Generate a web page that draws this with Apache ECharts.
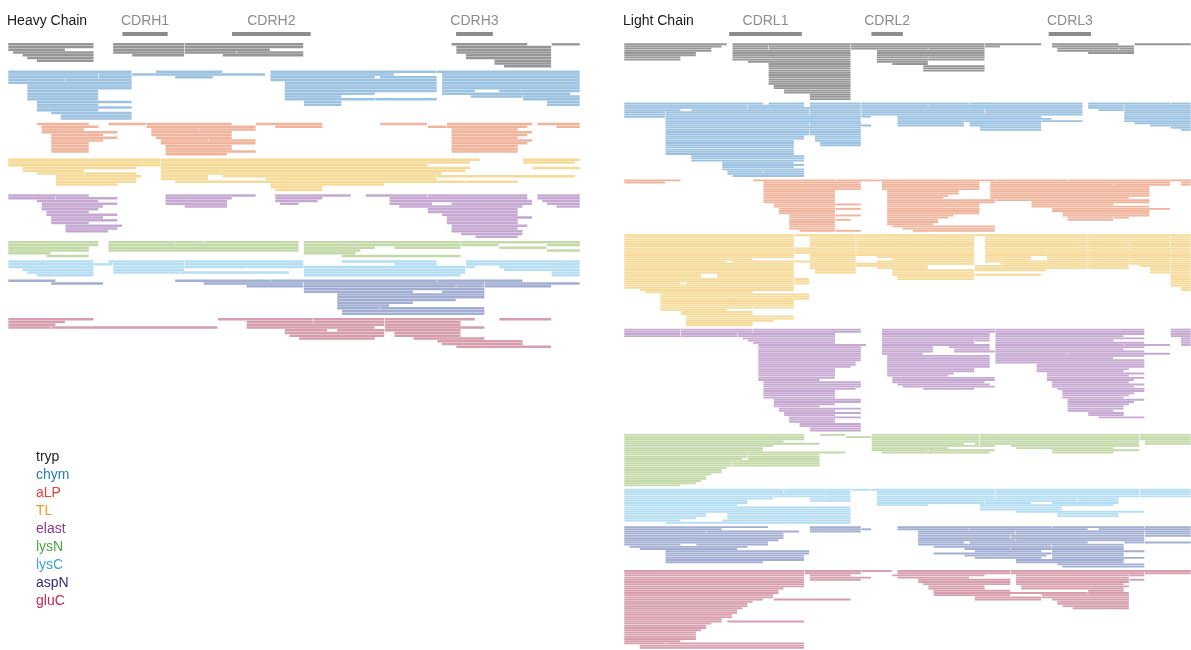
<!DOCTYPE html>
<html>
<head>
<meta charset="utf-8">
<title>Peptide coverage</title>
<script src="https://cdn.jsdelivr.net/npm/echarts/dist/echarts.min.js"></script>
<style>
  html, body { margin: 0; padding: 0; background: #fff; }
  #chart { width: 1191px; height: 650px; }
</style>
</head>
<body>
<div id="chart"></div>
<script>
// enzymes, in drawing order
const enzymes = ['tryp', 'chym', 'aLP', 'TL', 'elast', 'lysN', 'lysC', 'aspN', 'gluC']

// each row = flat list of [start, end] residue pairs
const heavyTryp = [
  [0,18, 22,37, 37,62, 93,109, 114,120],
  [0,18, 22,37, 37,62, 94,114],
  [0,12, 22,37, 37,55, 94,114],
  [1,18, 22,37, 37,48, 48,62, 94,114],
  [3,18, 26,37, 45,62, 96,114],
  [4,18, 96,114],
  [6,18, 102,114],
  [102,114],
  [104,114]
]
const heavyChym = [
  [0,26, 31,45, 55,90, 90,120],
  [0,19, 19,26, 26,54, 55,81, 91,120],
  [0,19, 19,26, 35,43, 55,77, 78,90, 91,120],
  [0,12, 12,26, 55,90, 91,120],
  [0,26, 58,90, 91,120],
  [4,26, 58,90, 91,120],
  [4,26, 58,90, 91,120],
  [4,19, 58,90, 91,98, 103,120],
  [4,19, 58,77, 91,118],
  [4,19, 58,70, 97,108, 108,120],
  [4,19, 58,77, 77,90, 108,120],
  [6,26, 62,70, 113,120],
  [6,19, 62,70, 113,120],
  [6,26],
  [6,19],
  [9,26],
  [11,26],
  [11,26]
]
const heavyAlp = [
  [6,17, 21,29, 29,47, 52,66, 78,88, 92,110, 111,120],
  [7,19, 29,52, 56,66, 88,92, 92,109, 115,120],
  [7,16, 30,40, 40,52, 93,107],
  [7,23, 30,47, 93,110],
  [9,20, 30,47, 93,109],
  [9,23, 31,47, 93,107],
  [9,20, 32,42, 42,52, 93,110],
  [9,17, 32,52, 93,109],
  [9,17, 33,47, 93,107],
  [9,17, 33,47, 93,107],
  [9,17, 33,52, 93,107],
  [33,46]
]
const heavyTl = [
  [0,32, 32,99, 108,120],
  [0,32, 32,97, 108,119],
  [0,32, 32,88],
  [3,27, 32,97, 110,120],
  [3,16, 32,96],
  [6,16, 16,27, 32,91],
  [10,28, 32,42, 45,90, 90,119],
  [10,27, 32,42, 54,90],
  [10,27, 35,96, 96,107],
  [10,23, 55,79],
  [55,66],
  [56,66]
]
const heavyElast = [
  [0,17, 33,52, 56,72, 75,88, 88,109, 111,120],
  [0,10, 10,23, 33,47, 56,66, 80,109, 111,120],
  [6,19, 33,46, 56,65, 80,110, 112,120],
  [7,23, 33,46, 57,61, 80,89, 93,110, 113,120],
  [7,20, 37,46, 82,108, 115,120],
  [7,19, 88,107],
  [8,17, 88,107],
  [8,23, 91,107],
  [9,20, 92,110],
  [9,23, 92,107],
  [9,17, 92,107],
  [12,24, 93,109],
  [12,23, 93,107],
  [12,21, 93,108],
  [95,108],
  [98,107]
]
const heavyLysN = [
  [0,19, 21,41, 41,61, 62,95, 95,120],
  [0,19, 21,35, 35,61, 62,95, 95,103, 113,120],
  [0,17, 21,61, 62,77, 81,95, 103,113],
  [0,17, 21,61, 62,74, 113,120],
  [0,9, 62,73],
  [8,17, 70,95]
]
const heavyLysC = [
  [0,18, 21,37, 37,62, 70,90, 96,120],
  [0,18, 18,22, 22,37, 37,62, 81,90, 96,120],
  [0,18, 22,37, 37,50, 50,62, 62,96, 96,98, 103,120],
  [3,18, 22,37, 62,96, 104,120],
  [4,18, 22,36, 36,59, 62,96, 114,120],
  [6,18, 62,95, 114,120]
]
const heavyAspN = [
  [0,10, 35,55, 55,90, 90,108],
  [9,20, 41,62, 62,100, 100,120],
  [50,62, 62,94, 94,100, 100,114],
  [62,100],
  [62,85, 91,100],
  [69,100],
  [69,100],
  [69,94],
  [69,85],
  [69,80],
  [69,78, 78,100],
  [70,100],
  [70,100]
]
const heavyGluC = [
  [0,18, 44,64, 64,79, 79,98, 103,114],
  [0,12, 50,64, 64,79, 79,95],
  [0,10, 50,79, 79,95],
  [0,9, 9,44, 50,77, 79,100],
  [58,67, 69,79, 79,95],
  [58,79, 81,95],
  [59,79, 81,95],
  [61,77, 85,100],
  [90,108],
  [91,108],
  [94,114]
]

const lightTryp = [
  [0,20, 21,44, 44,70, 70,81, 83,96, 99,110],
  [0,19, 21,28, 28,44, 44,70, 70,73, 83,99],
  [0,17, 21,28, 28,44, 44,59, 59,70, 84,96, 96,99],
  [0,17, 21,44, 49,70, 84,99],
  [0,14, 21,44, 49,70, 90,99],
  [0,14, 21,44, 49,70],
  [0,11, 21,44, 49,59, 59,70],
  [0,11, 21,44, 49,70],
  [24,44, 49,59],
  [28,44, 52,59],
  [28,44, 58,70],
  [28,44, 58,70],
  [28,44, 58,70],
  [28,44],
  [28,44],
  [28,44],
  [28,44],
  [28,44],
  [28,44],
  [29,44],
  [29,44],
  [31,44],
  [31,44],
  [36,44],
  [36,44],
  [36,44]
]
const lightChym = [
  [0,27, 28,35, 36,46, 46,67, 67,89, 90,106, 106,110],
  [0,24, 24,35, 36,46, 46,59, 59,89, 90,97, 97,110],
  [0,24, 24,46, 46,89, 90,97, 97,110],
  [0,11, 13,36, 36,46, 46,70, 70,89, 92,97, 97,110],
  [0,8, 8,36, 36,46, 46,70, 70,89, 97,110],
  [0,8, 8,36, 36,46, 46,89, 97,110],
  [0,8, 8,46, 46,48, 53,81, 97,110],
  [8,46, 53,83, 97,110],
  [8,46, 53,66, 66,81, 81,89, 97,110],
  [8,36, 36,46, 53,66, 67,81, 99,110],
  [8,36, 36,48, 53,66, 67,81, 102,110],
  [8,46, 69,81, 106,110],
  [8,36, 36,46, 69,81, 108,110],
  [8,36, 36,46],
  [8,36, 36,46],
  [8,35, 37,46],
  [8,35, 37,46],
  [8,33, 37,46],
  [8,33, 38,46],
  [8,33, 38,46],
  [8,33],
  [8,33],
  [8,33],
  [8,33],
  [13,35],
  [13,35],
  [13,35],
  [19,33],
  [19,35],
  [19,33],
  [19,35],
  [20,27, 27,35],
  [20,35],
  [21,35]
]
const lightAlp = [
  [0,11, 25,41, 41,50, 50,72, 72,86, 86,106, 106,110],
  [0,8, 27,46, 50,69, 71,106, 108,110],
  [27,46, 50,69, 71,95, 95,106, 108,110],
  [27,46, 50,69, 71,102],
  [27,46, 50,69, 71,102],
  [27,41, 51,65, 71,102],
  [27,41, 51,65, 71,102],
  [27,41, 51,63, 71,102],
  [27,41, 51,62, 71,98],
  [27,41, 51,72, 72,102],
  [27,41, 51,72, 79,102],
  [29,41, 41,46, 51,69, 79,95],
  [29,41, 51,69, 79,102],
  [30,41, 41,46, 51,69, 83,106],
  [30,41, 51,69, 83,102],
  [30,41, 51,69, 85,102],
  [32,41, 41,46, 51,64, 85,102],
  [32,41, 51,63, 86,95, 95,98],
  [32,41, 41,44, 51,61, 86,95],
  [32,41, 51,61],
  [32,41, 51,60],
  [32,41, 52,72],
  [32,41, 54,72],
  [34,41, 41,46, 56,72]
]
const lightTl = [
  [0,33, 33,45, 45,68, 68,90, 90,106, 106,110],
  [0,33, 36,45, 45,68, 70,90, 90,106, 106,110],
  [0,33, 36,45, 45,68, 70,90, 90,98, 98,110],
  [0,33, 36,45, 45,68, 70,90, 90,106, 106,110],
  [0,33, 36,45, 45,68, 70,98, 98,106, 106,110],
  [0,33, 36,45, 45,68, 70,90, 90,106, 106,110],
  [0,33, 33,45, 45,68, 70,90, 90,98, 98,110],
  [0,33, 33,45, 45,68, 70,90, 90,106, 106,110],
  [0,33, 33,45, 45,68, 70,82, 82,106, 106,110],
  [0,33, 36,45, 45,68, 70,90, 90,98, 98,110],
  [0,25, 25,33, 36,45, 49,68, 70,79, 82,90, 90,106, 106,110],
  [0,25, 36,45, 52,68, 70,79, 82,98, 98,110],
  [0,20, 21,33, 33,45, 49,68, 70,90, 90,106, 106,110],
  [0,33, 36,45, 45,68, 73,90, 90,98, 98,106, 106,110],
  [0,33, 36,45, 45,59, 68,90, 90,98, 100,106, 106,110],
  [0,33, 36,45, 49,59, 68,90, 90,98, 102,106, 106,110],
  [0,33, 37,45, 52,68, 68,82, 102,106, 106,110],
  [0,33, 37,45, 52,68, 102,106, 106,110],
  [0,15, 18,33, 52,68, 68,81, 106,110],
  [0,15, 18,33, 53,68, 106,110],
  [0,33, 33,36, 53,68, 106,110],
  [0,33, 33,36, 106,110],
  [0,11, 12,33, 33,36, 106,110],
  [0,33, 106,110],
  [0,33, 108,110],
  [3,33, 108,110],
  [4,25],
  [7,36],
  [7,21, 21,36],
  [7,36],
  [7,33],
  [7,33],
  [7,33],
  [7,25, 25,33],
  [7,20],
  [11,25],
  [11,25],
  [12,33],
  [12,33],
  [12,29],
  [12,25],
  [12,25]
]
const lightElast = [
  [0,11, 11,25, 25,46, 50,72, 72,101, 106,110],
  [0,11, 11,25, 25,46, 50,72, 72,101, 106,110],
  [0,11, 11,22, 22,41, 50,71, 72,101, 106,110],
  [0,11, 11,22, 22,41, 50,71, 72,97, 106,110],
  [23,41, 50,71, 72,101, 108,110],
  [24,41, 50,68, 68,71, 72,95, 108,110],
  [25,41, 50,68, 72,101, 108,110],
  [26,47, 50,71, 72,97, 97,106, 108,110],
  [26,46, 50,60, 63,71, 72,101],
  [26,46, 50,60, 64,71, 72,97],
  [26,46, 50,60, 64,72, 72,101],
  [26,46, 50,58, 72,86, 86,106],
  [26,46, 51,71, 72,101],
  [26,46, 51,71, 72,95],
  [26,46, 51,71, 72,101],
  [26,45, 51,71, 72,101],
  [26,45, 51,71, 80,101],
  [26,44, 51,71, 80,101],
  [26,41, 51,68, 80,98],
  [26,41, 51,68, 80,97],
  [26,41, 51,64, 82,101],
  [26,41, 51,63, 82,98],
  [26,41, 52,72, 82,101],
  [26,38, 52,72, 82,99],
  [27,46, 52,70, 83,98],
  [27,46, 53,71, 83,101],
  [27,46, 54,72, 83,99],
  [27,45, 58,68, 84,101],
  [27,41, 85,101],
  [27,41, 85,99],
  [27,41, 85,98],
  [27,41, 85,97],
  [29,46, 86,101],
  [29,46, 86,99],
  [29,41, 86,98],
  [29,38, 86,97],
  [30,46, 86,97],
  [30,41, 86,95],
  [31,46, 90,97],
  [31,41, 90,97],
  [32,46, 92,101],
  [32,41],
  [32,41],
  [34,46],
  [34,46],
  [36,46],
  [36,46]
]
const lightLysN = [
  [0,35, 38,43, 48,69, 69,100, 100,110],
  [0,35, 43,48, 48,69, 69,100, 100,110],
  [0,35, 48,69, 69,100, 100,110],
  [0,31, 48,69, 69,100, 101,110],
  [0,38, 48,66, 68,69, 69,100, 101,110],
  [0,29, 48,69, 69,72, 75,100],
  [0,27, 48,63, 76,95],
  [0,27, 48,59, 59,72, 83,100],
  [0,43, 50,71, 83,95],
  [0,24, 24,38],
  [0,24, 24,38],
  [0,23, 24,38],
  [0,22, 22,38],
  [0,21, 21,38],
  [0,21, 21,38],
  [0,20],
  [0,19],
  [0,19],
  [0,17],
  [0,16],
  [0,16],
  [0,15],
  [0,14],
  [0,11]
]
const lightLysC = [
  [0,31, 31,44, 44,48, 48,72, 72,100, 100,110],
  [0,31, 31,44, 49,72, 72,100, 100,110],
  [0,44, 49,72, 72,100, 100,110],
  [0,29, 29,39, 39,44, 49,72, 72,100, 100,110],
  [0,29, 36,44, 49,72, 72,88, 88,96],
  [0,24, 36,44, 49,70, 70,88, 88,96],
  [0,24, 49,70, 70,79, 83,96],
  [0,22, 49,59, 69,95],
  [0,44, 69,85],
  [0,44, 69,85],
  [0,44, 76,101],
  [0,16, 20,44, 84,96],
  [0,16, 20,44, 84,96],
  [0,14, 20,44],
  [0,11, 19,44],
  [8,44]
]
const lightAspN = [
  [0,28, 36,46, 53,83, 83,101, 101,110],
  [0,19, 36,46, 46,48, 53,67, 67,90, 92,110],
  [0,16, 16,34, 36,46, 57,76, 76,101, 101,110],
  [0,31, 57,76, 76,101, 101,110],
  [0,31, 57,75, 75,101, 101,110],
  [0,31, 57,75, 75,101],
  [0,30, 57,76, 76,101],
  [0,28, 57,66, 67,90, 97,101, 101,110],
  [0,11, 14,28, 57,83, 83,97],
  [1,24, 60,83, 83,97],
  [3,22, 66,75, 75,97],
  [8,36, 68,81, 83,101],
  [8,36, 60,83, 83,97],
  [8,35, 66,82, 83,97],
  [8,35, 68,81, 83,101],
  [8,35, 76,97],
  [8,27, 76,97],
  [84,101],
  [85,101]
]
const lightGluC = [
  [0,35, 35,46, 46,52, 53,75, 75,110],
  [0,35, 35,46, 53,75, 75,101, 101,110],
  [0,35, 36,44, 52,70, 76,98, 98,101],
  [0,35, 36,48, 53,67, 76,98],
  [0,35, 36,46, 57,75, 76,98, 98,101],
  [0,35, 57,75, 76,98],
  [0,35, 58,75, 76,97],
  [0,35, 59,70, 77,98],
  [0,31, 59,70, 77,97],
  [0,30, 60,75, 90,97],
  [0,30, 60,90, 90,98],
  [0,29, 60,75, 81,98],
  [0,29, 68,81, 81,98],
  [0,27, 29,44, 68,81, 83,98],
  [0,25, 84,98],
  [0,24, 84,98],
  [0,24, 85,98],
  [0,23, 87,98],
  [0,22],
  [0,22],
  [0,21],
  [0,21],
  [0,19],
  [0,19, 20,35],
  [0,17],
  [0,16],
  [0,16],
  [0,15],
  [0,14],
  [0,14],
  [0,14],
  [0,14],
  [0,11],
  [0,8, 8,35],
  [3,35],
  [3,35]
]

// CDR regions (residue ranges)
const heavyCdrNames = ['CDRH1', 'CDRH2', 'CDRH3']
const heavyCdrRanges = [[24, 33.5], [47, 63.5], [94, 101.7]]
const lightCdrNames = ['CDRL1', 'CDRL2', 'CDRL3']
const lightCdrRanges = [[20.4, 34.5], [48, 54.1], [82.4, 90.6]]

// styles
const FONT = '"Liberation Sans", Arial, sans-serif'
const lineColors = ['#969696', '#9cc2e2', '#f0b49c', '#f5da98', '#c6a8d2', '#c3d9a8', '#b6def2', '#a2afd2', '#d79ead']
const legendColors = ['#222222', '#2a7ab9', '#e5413b', '#f39c22', '#8b3a8f', '#47a644', '#3ba4dd', '#2c2f7f', '#c52653']
const GROUP_GAP = 1

const chains = [
  {
    title: 'Heavy Chain',
    groups: [heavyTryp, heavyChym, heavyAlp, heavyTl, heavyElast, heavyLysN, heavyLysC, heavyAspN, heavyGluC],
    cdrNames: heavyCdrNames, cdrRanges: heavyCdrRanges, cdrLevel: -3.75,
    grid: { left: 8, width: 572, top: 27.8, height: 319 },
    xMax: 120, yMin: -6, yMax: 110
  },
  {
    title: 'Light Chain',
    groups: [lightTryp, lightChym, lightAlp, lightTl, lightElast, lightLysN, lightLysC, lightAspN, lightGluC],
    cdrNames: lightCdrNames, cdrRanges: lightCdrRanges, cdrLevel: -4.7,
    grid: { left: 624, width: 567, top: 26.7, height: 624.8 },
    xMax: 110, yMin: -8, yMax: 276
  }
]

const renderPeptide = (params, api) => {
  const a = api.coord([api.value(0), api.value(2)])
  const b = api.coord([api.value(1), api.value(2)])
  const h = api.size([0, 1])[1] * 0.86
  return {
    type: 'rect',
    shape: { x: a[0] + 0.3, y: a[1] - h / 2, width: Math.max(b[0] - a[0] - 0.6, 0.5), height: h },
    style: api.style()
  }
}

const renderCdr = (params, api) => {
  const a = api.coord([api.value(0), api.value(2)])
  const b = api.coord([api.value(1), api.value(2)])
  return {
    type: 'group',
    children: [
      { type: 'rect', shape: { x: a[0], y: a[1] - 2, width: b[0] - a[0], height: 4 }, style: { fill: '#8c8c8c' } },
      {
        type: 'text',
        style: {
          text: api.value(3), x: (a[0] + b[0]) / 2, y: a[1] - 13,
          align: 'center', verticalAlign: 'middle', fill: '#8c8c8c', font: '14px ' + FONT
        }
      }
    ]
  }
}

const series = []
chains.forEach((chain, c) => {
  let offset = 0
  chain.groups.forEach((rows, e) => {
    const data = []
    rows.forEach((row, i) => {
      for (let k = 0; k < row.length; k += 2) {
        data.push([row[k], row[k + 1], offset + i])
      }
    })
    offset += rows.length + GROUP_GAP
    series.push({
      name: enzymes[e],
      type: 'custom',
      xAxisIndex: c,
      yAxisIndex: c,
      renderItem: renderPeptide,
      itemStyle: { color: lineColors[e] },
      encode: { x: [0, 1], y: 2 },
      silent: true,
      animation: false,
      data: data
    })
  })
  series.push({
    type: 'custom',
    xAxisIndex: c,
    yAxisIndex: c,
    renderItem: renderCdr,
    silent: true,
    animation: false,
    data: chain.cdrRanges.map((r, i) => [r[0], r[1], chain.cdrLevel, chain.cdrNames[i]])
  })
})

const chart = echarts.init(document.getElementById('chart'))
chart.setOption({
  backgroundColor: '#ffffff',
  animation: false,
  title: chains.map(ch => ({
    text: ch.title,
    left: ch.grid.left - 1,
    top: 14,
    padding: 0,
    textStyle: { fontSize: 14, fontWeight: 'normal', color: '#1a1a1a', fontFamily: FONT }
  })),
  legend: {
    orient: 'vertical',
    left: 26,
    top: 445,
    itemWidth: 0,
    itemHeight: 14,
    itemGap: 4,
    selectedMode: false,
    itemStyle: { opacity: 0 },
    textStyle: { fontSize: 14, fontFamily: FONT },
    data: enzymes.map((name, i) => ({ name: name, textStyle: { color: legendColors[i] } }))
  },
  grid: chains.map(ch => ({ left: ch.grid.left, width: ch.grid.width, top: ch.grid.top, height: ch.grid.height })),
  xAxis: chains.map((ch, i) => ({ type: 'value', gridIndex: i, min: 0, max: ch.xMax, show: false })),
  yAxis: chains.map((ch, i) => ({ type: 'value', gridIndex: i, min: ch.yMin, max: ch.yMax, inverse: true, show: false })),
  series: series
})
</script>
</body>
</html>
